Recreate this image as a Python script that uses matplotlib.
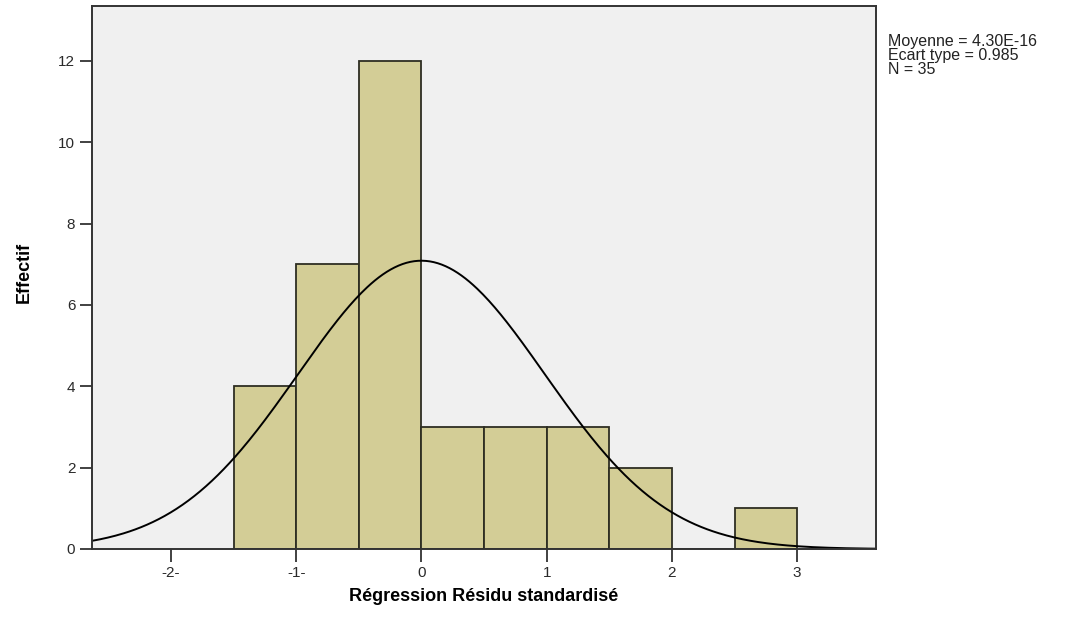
import numpy as np
import matplotlib
matplotlib.use("Agg")
import matplotlib.pyplot as plt

plt.rcParams['font.family'] = ['Liberation Sans', 'DejaVu Sans']

# histogram data (standardised residuals)
bin_edges = [-1.5, -1.0, -0.5, 0.0, 0.5, 1.0, 1.5, 2.0, 2.5, 3.0]
counts = [4, 7, 12, 3, 3, 3, 2, 0, 1]
mean = 4.30e-16
std = 0.985
n = 35

xticks = [-2, -1, 0, 1, 2, 3]
xticklabels = ["-2-", "-1-", "0", "1", "2", "3"]
yticks = [0, 2, 4, 6, 8, 10, 12]

fig = plt.figure(figsize=(10.85, 6.19), dpi=100)
ax = fig.add_axes([0.0848, 0.1131, 0.7226, 0.8772])
ax.set_facecolor("#f0f0f0")

widths = np.diff(bin_edges)
ax.bar(bin_edges[:-1], counts, width=widths, align="edge",
       color="#d3cd96", edgecolor="#2e2e22", linewidth=1.3)

# normal curve from mean / std, scaled to counts
xs = np.linspace(-2.63, 3.63, 400)
bw = widths[0]
ys = n * bw / (std * np.sqrt(2 * np.pi)) * np.exp(-0.5 * ((xs - mean) / std) ** 2)
ax.plot(xs, ys, color="black", lw=1.4)

ax.set_xlim(-2.63, 3.63)
ax.set_ylim(0, 13.35)
ax.set_xticks(xticks)
ax.set_xticklabels(xticklabels)
ax.set_yticks(yticks)
ax.tick_params(axis="both", direction="out", length=9, width=1.3,
               labelsize=11, color="#333333", labelcolor="#2a2a2a", pad=3)
for s in ax.spines.values():
    s.set_color("#333333")
    s.set_linewidth(1.4)

ax.set_xlabel("Régression Résidu standardisé", fontsize=13, fontweight="bold", labelpad=6)
ax.set_ylabel("Effectif", fontsize=13, fontweight="bold")
ax.yaxis.set_label_coords(-0.075, 0.51)

fig.text(0.818, 0.945, "Moyenne = 4.30E-16\nEcart type = 0.985\nN = 35",
         fontsize=11.5, va="top", ha="left", linespacing=0.92, color="#222222")

fig.savefig("out.png", dpi=100)
